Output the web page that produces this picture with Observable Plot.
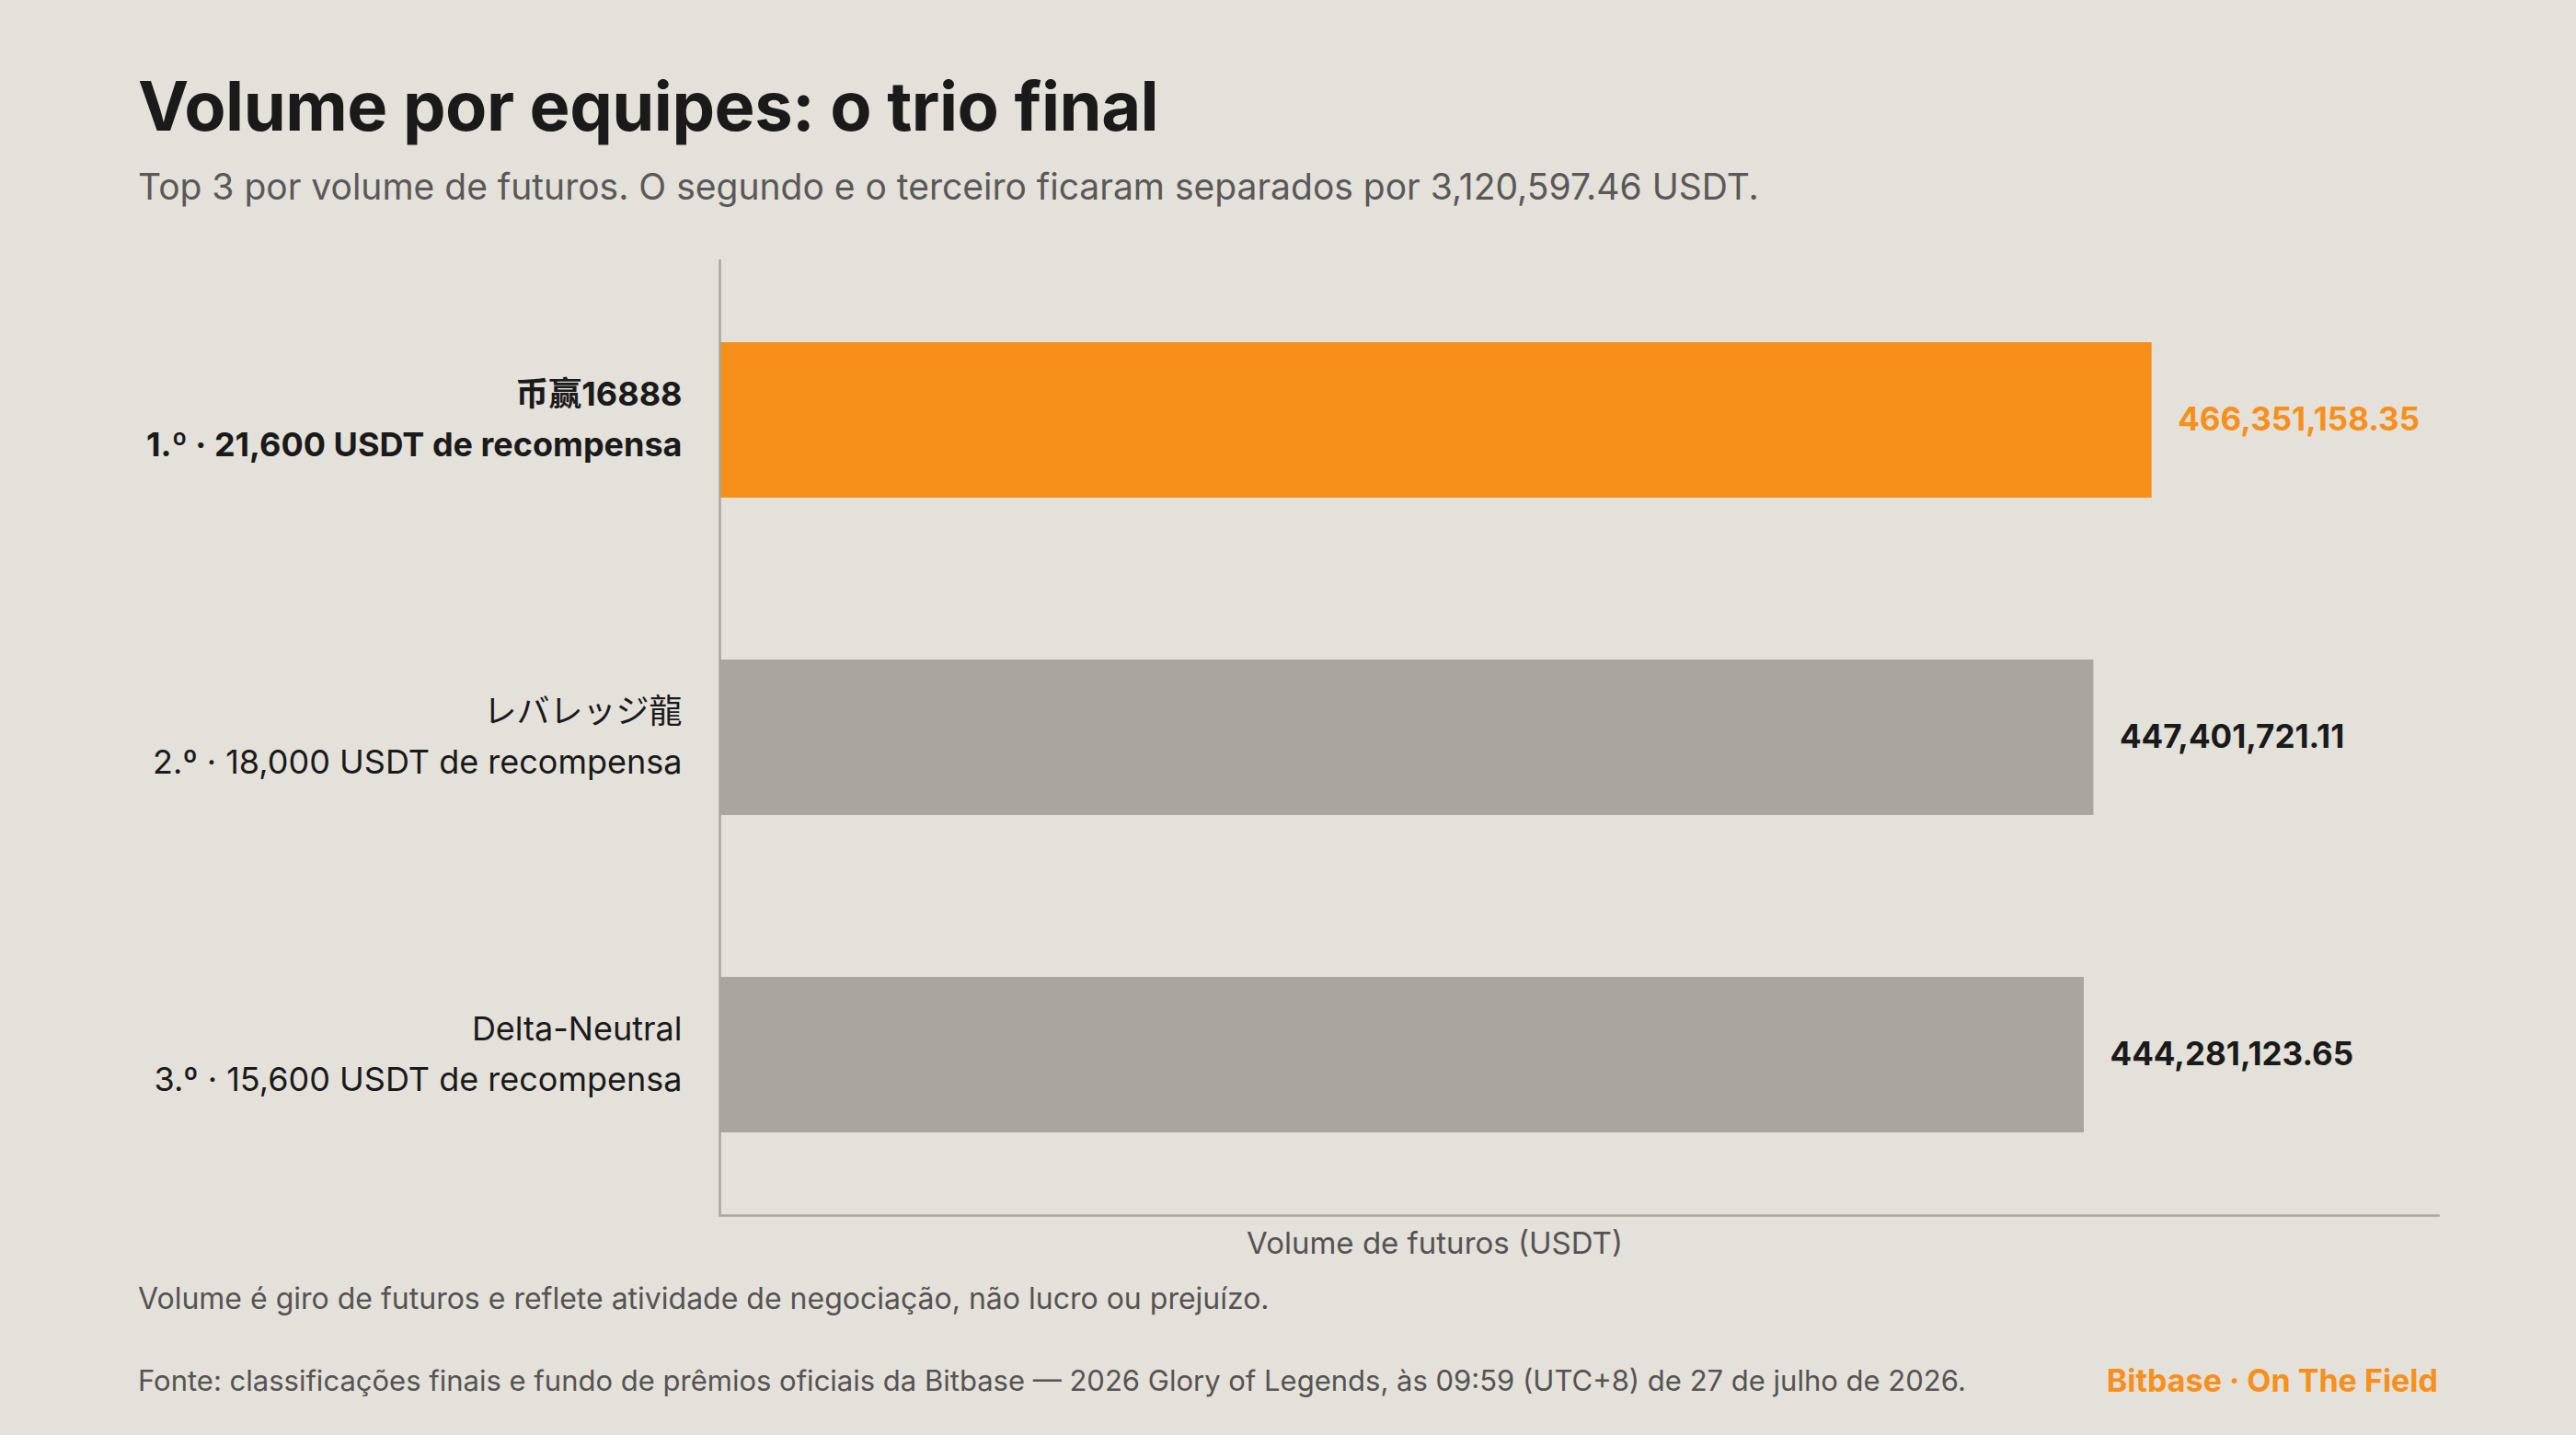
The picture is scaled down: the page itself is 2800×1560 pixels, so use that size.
<!DOCTYPE html>
<html>
<head>
<meta charset="utf-8">
<script src="https://cdn.jsdelivr.net/npm/d3@7"></script>
<script src="https://cdn.jsdelivr.net/npm/@observablehq/plot@0.6"></script>
<style>
  html, body { margin: 0; padding: 0; background: #e4e0da; }
  #page { position: relative; width: 2800px; height: 1560px; background: #e4e0da; font-family: Inter, "Noto Sans CJK SC", sans-serif; overflow: hidden; }
  .abs { position: absolute; white-space: nowrap; }
  #title { left: 150px; top: 78px; font-size: 74px; font-weight: 700; color: #1a1a1a; letter-spacing: -0.5px; line-height: 1; }
  #subtitle { left: 150px; top: 183px; font-size: 39px; color: #5a5858; line-height: 1; }
  #chart { left: 0; top: 250px; }
  #note { left: 150px; top: 1396px; font-size: 32px; color: #555353; line-height: 1; }
  #source { left: 150px; top: 1485px; font-size: 31px; color: #555353; line-height: 1; }
  #brand { right: 150px; top: 1484px; font-size: 34px; font-weight: 700; color: #f7901a; line-height: 1; }
</style>
</head>
<body>
<div id="page">
  <div id="title" class="abs">Volume por equipes: o trio final</div>
  <div id="subtitle" class="abs">Top 3 por volume de futuros. O segundo e o terceiro ficaram separados por 3,120,597.46 USDT.</div>
  <div id="chart" class="abs"></div>
  <div id="note" class="abs">Volume é giro de futuros e reflete atividade de negociação, não lucro ou prejuízo.</div>
  <div id="source" class="abs">Fonte: classificações finais e fundo de prêmios oficiais da Bitbase — 2026 Glory of Legends, às 09:59 (UTC+8) de 27 de julho de 2026.</div>
  <div id="brand" class="abs">Bitbase · On The Field</div>
</div>
<script>
const teams = ["币赢16888", "レバレッジ龍", "Delta-Neutral"];
const ranks = ["1.º", "2.º", "3.º"];
const prizes = [21600, 18000, 15600];
const volumes = [466351158.35, 447401721.11, 444281123.65];
const xLabel = "Volume de futuros (USDT)";

const fmtNum = d3.format(",");
const fmtVol = d3.format(",.2f");
const data = teams.map((t, i) => ({
  team: t,
  rank: i + 1,
  label: `${t}\n${ranks[i]} · ${fmtNum(prizes[i])} USDT de recompensa`,
  volume: volumes[i]
}));
const winner = data.filter(d => d.rank === 1);
const others = data.filter(d => d.rank !== 1);

const ORANGE = "#f7901a";
const GREY = "#aaa59f";
const AXIS = "#aaa59c";
const INK = "#1a1a1a";

const chart = Plot.plot({
  width: 2800,
  height: 1130,
  marginLeft: 782,
  marginRight: 150,
  marginTop: 32,
  marginBottom: 59,
  style: { background: "transparent", fontFamily: "Inter, 'Noto Sans CJK SC', sans-serif", overflow: "visible" },
  x: { domain: [0, d3.max(volumes) * 1.2], axis: null },
  y: { domain: teams, axis: null, paddingInner: 0.51, paddingOuter: 0.26 },
  marks: [
    Plot.barX(data, { x: "volume", y: "team", fill: d => d.rank === 1 ? ORANGE : GREY }),
    Plot.ruleX([0], { stroke: AXIS, strokeWidth: 2.5 }),
    Plot.frame({ anchor: "bottom", stroke: AXIS, strokeWidth: 2.5 }),
    Plot.text(winner, { y: "team", text: "label", frameAnchor: "left", textAnchor: "end", dx: -41, dy: -6, lineHeight: 1.53, fontSize: 36, fontWeight: 700, fill: INK }),
    Plot.text(others, { y: "team", text: "label", frameAnchor: "left", textAnchor: "end", dx: -41, dy: -6, lineHeight: 1.53, fontSize: 36, fontWeight: 400, fill: INK }),
    Plot.text(winner, { x: "volume", y: "team", text: d => fmtVol(d.volume), textAnchor: "start", dx: 28, fontSize: 35, fontWeight: 700, fill: ORANGE }),
    Plot.text(others, { x: "volume", y: "team", text: d => fmtVol(d.volume), textAnchor: "start", dx: 28, fontSize: 35, fontWeight: 700, fill: INK }),
    Plot.text([xLabel], { text: d => d, frameAnchor: "bottom", dx: -157, dy: 31, lineAnchor: "middle", fontSize: 33, fill: "#555353" })
  ]
});
document.getElementById("chart").appendChild(chart);
</script>
</body>
</html>
